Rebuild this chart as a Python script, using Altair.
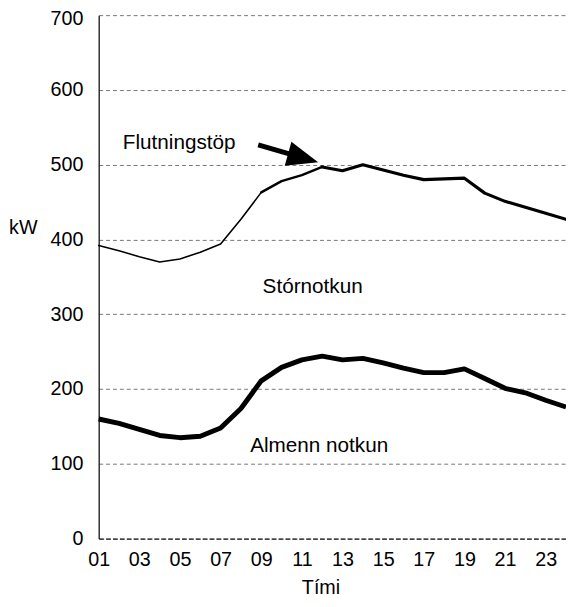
import altair as alt
import pandas as pd

# ---- data ----
hours = list(range(1, 25))
tick_hours = [1, 3, 5, 7, 9, 11, 13, 15, 17, 19, 21, 23]
y_ticks = [0, 100, 200, 300, 400, 500, 600, 700]

# upper curve (total incl. Stórnotkun)
total_kw = [392, 385, 377, 370, 374, 383, 394, 427, 463, 478, 486, 497,
            492, 500, 493, 486, 480, 481, 482, 462, 451, 443, 435, 427]
# lower curve (Almenn notkun)
almenn_kw = [160, 154, 146, 138, 135, 137, 148, 174, 211, 229, 239, 244,
             239, 241, 235, 228, 222, 222, 227, 214, 201, 195, 185, 176]

# upper curve drawn in three stroke weights
seg_bounds = [(1, 9, "thin"), (9, 12, "mid"), (12, 24, "thick")]

labels = ["Flutningstöp", "Stórnotkun", "Almenn notkun"]
label_x = [4.96, 11.53, 11.85]
label_y = [529, 336, 124]

arrow_x = [8.85, 11.06]
arrow_y = [526.6, 509.0]
arrow_head_x = [11.06]
arrow_head_y = [509.0]

FONT = "Liberation Sans"

rows = []
for a, b, s in seg_bounds:
    for h, v in zip(hours, total_kw):
        if a <= h <= b:
            rows.append({"h": h, "kw": v, "seg": s})
top_df = pd.DataFrame(rows)
low_df = pd.DataFrame({"h": hours, "kw": almenn_kw})
lab_df = pd.DataFrame({"h": label_x, "kw": label_y, "t": labels})
arr_df = pd.DataFrame({"h": arrow_x, "kw": arrow_y})
head_df = pd.DataFrame({"h": arrow_head_x, "kw": arrow_head_y})

xs = alt.Scale(domain=[1, 24], nice=False, zero=False)
ys = alt.Scale(domain=[0, 700], nice=False)

x_axis = alt.Axis(
    values=tick_hours,
    labelExpr="datum.value < 10 ? '0' + datum.value : '' + datum.value",
    title="Tími", titleX=225, titleY=50, titleAnchor="middle",
    titleBaseline="middle", titleAlign="center",
    ticks=False, grid=False, labelPadding=11,
    domainColor="#222", domainDash=[5, 2], domainWidth=1.2,
    labelFlush=False,
)
y_axis = alt.Axis(
    values=y_ticks, title="kW", titleAngle=0, titleX=-77, titleY=216,
    titleAlign="center", titleBaseline="middle",
    ticks=False, labelPadding=16, grid=True,
    labelOffset={"condition": {"test": "datum.value == 700", "value": 4}, "value": 0},
    gridColor="#777", gridDash=[4, 3], gridWidth=1,
    domainColor="#111", domainWidth=1.3,
)

base_x = alt.X("h:Q", scale=xs, axis=x_axis)
base_y = alt.Y("kw:Q", scale=ys, axis=y_axis)

top = alt.Chart(top_df).mark_line(color="#000", strokeJoin="round", strokeCap="round").encode(
    x=base_x, y=base_y,
    detail="seg:N",
    strokeWidth=alt.StrokeWidth("seg:N", scale=alt.Scale(domain=["thin", "mid", "thick"], range=[1.6, 3.2, 5]), legend=None),
)
low = alt.Chart(low_df).mark_line(color="#000", strokeWidth=5, strokeJoin="round").encode(
    x=alt.X("h:Q", scale=xs), y=alt.Y("kw:Q", scale=ys)
)
txt = alt.Chart(lab_df).mark_text(font=FONT, fontSize=21, color="#000", align="center", baseline="middle").encode(
    x=alt.X("h:Q", scale=xs), y=alt.Y("kw:Q", scale=ys), text="t:N"
)
shaft = alt.Chart(arr_df).mark_line(color="#000", strokeWidth=5).encode(
    x=alt.X("h:Q", scale=xs), y=alt.Y("kw:Q", scale=ys)
)
head = alt.Chart(head_df).mark_point(
    shape="M -1 -0.8 L 1 0 L -1 0.8 Z", filled=True, color="#000",
    size=1000, angle=15.5, opacity=1,
).encode(x=alt.X("h:Q", scale=xs), y=alt.Y("kw:Q", scale=ys))

chart = alt.layer(top, low, shaft, head, txt).properties(
    width=474, height=531,
    autosize=alt.AutoSizeParams(type="none"),
    padding={"left": 92, "top": 3, "right": 0, "bottom": 57},
).configure_view(stroke=None).configure_axis(
    labelFont=FONT, titleFont=FONT, labelFontSize=20, titleFontSize=20,
    labelColor="#000", titleColor="#000", titleFontWeight="normal",
)

chart.save("out.html", embed_options={"renderer": "svg", "actions": False})
